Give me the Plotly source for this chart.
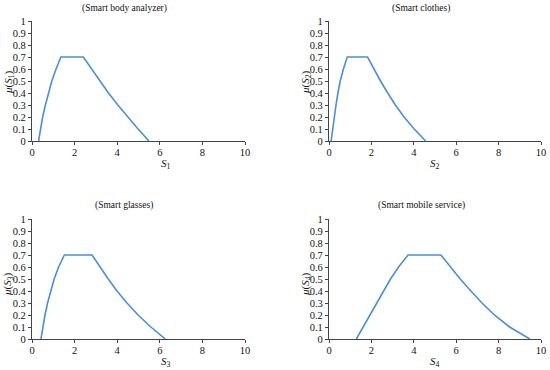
import plotly.graph_objects as go

# membership levels
mu_levels = [0.0, 0.1, 0.2, 0.3, 0.4, 0.5, 0.6, 0.7, 0.7, 0.6, 0.5, 0.4, 0.3, 0.2, 0.1, 0.0]

s1_x = [0.31, 0.39, 0.50, 0.63, 0.77, 0.93, 1.13, 1.36, 2.41, 2.79, 3.18, 3.59, 4.03, 4.49, 4.98, 5.49]
s2_x = [0.10, 0.17, 0.25, 0.33, 0.42, 0.53, 0.68, 0.86, 1.82, 2.12, 2.43, 2.77, 3.13, 3.54, 4.02, 4.56]
s3_x = [0.42, 0.50, 0.61, 0.73, 0.87, 1.04, 1.25, 1.52, 2.82, 3.19, 3.58, 3.99, 4.46, 4.98, 5.58, 6.26]
s4_x = [1.29, 1.62, 1.95, 2.27, 2.58, 2.90, 3.28, 3.73, 5.28, 5.72, 6.19, 6.69, 7.22, 7.80, 8.52, 9.47]

titles = ["(Smart body analyzer)", "(Smart clothes)", "(Smart glasses)", "(Smart mobile service)"]
x_tick_vals = [0, 2, 4, 6, 8, 10]
y_tick_vals = [0, 0.1, 0.2, 0.3, 0.4, 0.5, 0.6, 0.7, 0.8, 0.9, 1]
y_tick_text = ["0", "0.1", "0.2", "0.3", "0.4", "0.5", "0.6", "0.7", "0.8", "0.9", "1"]

W, H = 550, 370
FONT = "Liberation Serif"
LINE = "#4A8FD8"
AX = "#444444"

series = [s1_x, s2_x, s3_x, s4_x]
# pixel geometry of each panel: (x0, x1, ytop, ybottom)
panels = [(32, 245, 21, 141), (329, 541, 21, 141), (32, 245, 219, 339), (329, 541, 219, 339)]
title_pos = [(124, 8), (421, 8), (124, 205), (421, 205)]
xlab_pos = [(166, 164), (435, 164), (166, 362), (435, 362)]
ylab_pos = [(9, 82), (306, 82), (8, 284), (306, 284)]

fig = go.Figure()
for i, (xs, (x0, x1, yt, yb)) in enumerate(zip(series, panels)):
    n = i + 1
    xa = "x" if n == 1 else f"x{n}"
    ya = "y" if n == 1 else f"y{n}"
    fig.add_trace(go.Scatter(x=xs, y=mu_levels, mode="lines",
                             line=dict(color=LINE, width=1.6),
                             xaxis=xa, yaxis=ya, showlegend=False, hoverinfo="skip"))
    axcommon = dict(showgrid=False, zeroline=False, showline=True, linecolor=AX, linewidth=1.3,
                    ticks="outside", tickcolor=AX, tickwidth=1, ticklen=3, automargin=False,
                    tickfont=dict(family=FONT, size=10.5, color="#111111"))
    fig.layout[f"xaxis{'' if n == 1 else n}"] = dict(
        domain=[x0 / W, x1 / W], range=[0, 10], anchor=ya,
        tickvals=x_tick_vals, ticklabelstandoff=-2, **axcommon)
    fig.layout[f"yaxis{'' if n == 1 else n}"] = dict(
        domain=[1 - yb / H, 1 - yt / H], range=[0, 1], anchor=xa,
        tickvals=y_tick_vals, ticktext=y_tick_text, **axcommon)

annotations = []
for i in range(4):
    n = i + 1
    tx, ty = title_pos[i]
    annotations.append(dict(text=titles[i], x=tx / W, y=1 - ty / H, xref="paper", yref="paper",
                            showarrow=False, xanchor="center", yanchor="middle",
                            font=dict(family=FONT, size=9.5, color="#111111")))
    lx, ly = xlab_pos[i]
    annotations.append(dict(text=f"<i>S</i><sub>{n}</sub>", x=lx / W, y=1 - ly / H,
                            xref="paper", yref="paper", showarrow=False,
                            xanchor="center", yanchor="middle",
                            font=dict(family=FONT, size=11, color="#111111")))
    yx, yy = ylab_pos[i]
    annotations.append(dict(text=f"<i>μ</i>(<i>S</i><sub>{n}</sub>)", x=yx / W, y=1 - yy / H,
                            xref="paper", yref="paper", showarrow=False, textangle=-90,
                            xanchor="center", yanchor="middle",
                            font=dict(family=FONT, size=11, color="#111111")))

fig.update_layout(width=W, height=H, margin=dict(l=0, r=0, t=0, b=0),
                  paper_bgcolor="white", plot_bgcolor="white",
                  annotations=annotations)
fig.write_html("out.html", config={"displayModeBar": False},
               post_script="document.body.style.margin='0';document.body.style.overflow='hidden';")
